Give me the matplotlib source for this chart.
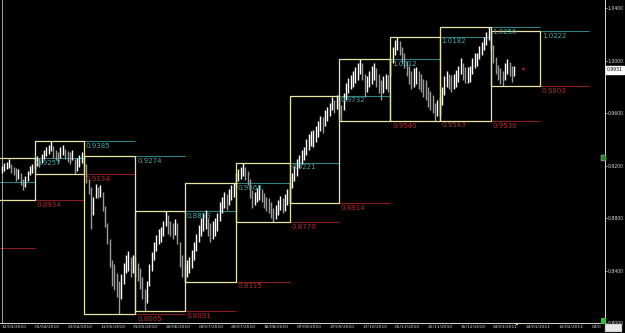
import matplotlib
matplotlib.use("Agg")
import matplotlib.pyplot as plt
from matplotlib.patches import Rectangle

# daily bars from 12/03/2010 (bar 0) to 17/01/2011
bar_high = [
    # Mar
    0.920, 0.922, 0.923, 0.925, 0.921, 0.919, 0.918, 0.917, 0.914, 0.910, 0.912, 0.916, 0.920, 0.921,
    # Apr
    0.926, 0.927, 0.926, 0.929, 0.932, 0.934, 0.936, 0.9385, 0.935, 0.932, 0.930, 0.934, 0.936, 0.933,
    0.931, 0.930, 0.932, 0.925, 0.926, 0.928, 0.930,
    # May
    0.928, 0.921, 0.910, 0.904, 0.896, 0.906, 0.904, 0.905, 0.900, 0.889, 0.876, 0.864, 0.848, 0.845,
    0.838, 0.832, 0.837, 0.846, 0.852, 0.855, 0.850, 0.852,
    # Jun
    0.850, 0.846, 0.842, 0.835, 0.826, 0.832, 0.845, 0.854, 0.862, 0.867, 0.872, 0.873, 0.878, 0.8853,
    0.882, 0.878, 0.876, 0.879, 0.876, 0.862, 0.852,
    # Jul
    0.845, 0.848, 0.850, 0.856, 0.862, 0.868, 0.875, 0.880, 0.884, 0.886, 0.880, 0.876, 0.878, 0.880,
    0.884, 0.892, 0.896, 0.900, 0.898, 0.902, 0.905, 0.9068,
    # Aug
    0.914, 0.917, 0.919, 0.9221, 0.919, 0.916, 0.910, 0.901, 0.900, 0.903, 0.905, 0.902, 0.899, 0.896,
    0.895, 0.892, 0.888, 0.890, 0.894, 0.897, 0.895, 0.898, 0.902,
    # Sep
    0.907, 0.914, 0.920, 0.925, 0.928, 0.932, 0.934, 0.940, 0.944, 0.946, 0.947, 0.950, 0.954, 0.958,
    0.957, 0.962, 0.965, 0.968, 0.972, 0.970, 0.9738,
    # Oct
    0.972, 0.966, 0.975, 0.983, 0.987, 0.989, 0.992, 0.995, 0.998, 1.0012, 0.998, 0.990, 0.988, 0.992,
    0.996, 0.998, 0.994, 0.990, 0.985, 0.988, 0.990, 0.989,
    # Nov
    1.002, 1.010, 1.016, 1.0182, 1.015, 1.010, 1.006, 1.000, 0.996, 0.992, 0.994, 0.995, 0.992, 0.990,
    0.986, 0.985, 0.980, 0.977, 0.974, 0.968, 0.970,
    # Dec
    0.972, 0.980, 0.988, 0.992, 0.990, 0.989, 0.990, 0.993, 0.996, 1.002, 0.998, 0.995, 0.995, 0.996,
    1.002, 1.006, 1.006, 1.011, 1.014, 1.018, 1.022, 1.0256,
    # Jan
    1.0222, 1.012, 1.003, 0.997, 0.994, 0.992, 0.998, 1.001, 0.999, 0.996, 0.996,
]
bar_low = [
    # Mar
    0.914, 0.916, 0.917, 0.918, 0.914, 0.913, 0.908, 0.910, 0.905, 0.901, 0.904, 0.908, 0.913, 0.914,
    # Apr
    0.917, 0.920, 0.919, 0.922, 0.925, 0.927, 0.929, 0.931, 0.926, 0.924, 0.922, 0.926, 0.928, 0.925,
    0.923, 0.921, 0.924, 0.9134, 0.916, 0.919, 0.922,
    # May
    0.920, 0.907, 0.898, 0.872, 0.882, 0.895, 0.895, 0.896, 0.885, 0.873, 0.860, 0.843, 0.828, 0.825,
    0.820, 0.8065, 0.818, 0.830, 0.838, 0.840, 0.835, 0.838,
    # Jun
    0.835, 0.832, 0.826, 0.818, 0.8091, 0.815, 0.828, 0.840, 0.848, 0.855, 0.860, 0.862, 0.866, 0.874,
    0.868, 0.866, 0.864, 0.867, 0.860, 0.843, 0.835,
    # Jul
    0.8315, 0.835, 0.838, 0.842, 0.848, 0.855, 0.862, 0.866, 0.870, 0.872, 0.866, 0.862, 0.864, 0.866,
    0.870, 0.878, 0.884, 0.888, 0.886, 0.890, 0.894, 0.896,
    # Aug
    0.904, 0.908, 0.910, 0.912, 0.909, 0.905, 0.895, 0.888, 0.890, 0.892, 0.894, 0.892, 0.888, 0.885,
    0.884, 0.880, 0.877, 0.879, 0.882, 0.886, 0.884, 0.885, 0.890,
    # Sep
    0.8914, 0.903, 0.908, 0.912, 0.918, 0.921, 0.924, 0.928, 0.932, 0.935, 0.934, 0.938, 0.942, 0.946,
    0.945, 0.950, 0.954, 0.958, 0.962, 0.960, 0.963,
    # Oct
    0.958, 0.954, 0.962, 0.970, 0.975, 0.978, 0.980, 0.983, 0.985, 0.990, 0.985, 0.972, 0.976, 0.980,
    0.982, 0.985, 0.980, 0.975, 0.970, 0.975, 0.978, 0.976,
    # Nov
    0.988, 0.998, 1.004, 1.008, 1.004, 0.998, 0.994, 0.988, 0.982, 0.978, 0.980, 0.982, 0.978, 0.976,
    0.972, 0.970, 0.965, 0.962, 0.960, 0.9543, 0.958,
    # Dec
    0.958, 0.966, 0.974, 0.980, 0.978, 0.976, 0.978, 0.980, 0.984, 0.990, 0.985, 0.983, 0.983, 0.984,
    0.990, 0.994, 0.996, 1.001, 1.004, 1.008, 1.012, 1.016,
    # Jan
    1.008, 0.998, 0.990, 0.985, 0.982, 0.9803, 0.985, 0.990, 0.988, 0.984, 0.988,
]

# monthly ranges (Feb 2010 .. Jan 2011) and the bar where each month starts
month_names = ["Feb", "Mar", "Apr", "May", "Jun", "Jul", "Aug", "Sep", "Oct", "Nov", "Dec", "Jan"]
month_start = [-30, -8, 14, 35, 57, 78, 100, 123, 144, 166, 187, 209, 230, 251]
month_high = [0.9075, 0.9257, 0.9385, 0.9274, 0.8853, 0.9068, 0.9221, 0.9732, 1.0012, 1.0182, 1.0256, 1.0222]
month_low = [0.8574, 0.8934, 0.9134, 0.8065, 0.8091, 0.8315, 0.8770, 0.8914, 0.9540, 0.9543, 0.9536, 0.9803]

date_labels = ["12/03/2010", "01/04/2010", "21/04/2010", "11/05/2010", "31/05/2010", "20/06/2010",
               "09/07/2010", "29/07/2010", "18/08/2010", "07/09/2010", "27/09/2010", "17/10/2010",
               "05/11/2010", "25/11/2010", "15/12/2010", "04/01/2011", "24/01/2011", "13/02/2011",
               "04/0"]
price_ticks = [0.80, 0.84, 0.88, 0.92, 0.96, 1.00, 1.04]
last_price = 0.9931

BOX = "#e6e6a6"
HI_LINE = "#2a8484"
HI_TEXT = "#4aa6a6"
LO_LINE = "#8a1c1c"
LO_TEXT = "#b02a2a"

fig = plt.figure(figsize=(6.25, 3.33), dpi=100, facecolor="black")
ax = fig.add_axes([0, 10 / 333, 605 / 625, 323 / 333], facecolor="black")

# bars, white when the bar moved up, grey when down
idx = list(range(len(bar_high)))
colors = []
for i in idx:
    mid = (bar_high[i] + bar_low[i]) / 2
    prev = (bar_high[i - 1] + bar_low[i - 1]) / 2 if i > 0 else mid
    colors.append("#ffffff" if mid >= prev else "#9a9a9a")
ax.vlines(idx, bar_low, bar_high, colors=colors, lw=1.0, zorder=3)

# monthly boxes + previous month high/low carried into the next month
for m in range(len(month_names)):
    s, e, e2 = month_start[m], month_start[m + 1], month_start[m + 2]
    hi, lo = month_high[m], month_low[m]
    ax.add_patch(Rectangle((s, lo), e - s, hi - lo, fill=False, ec=BOX, lw=0.9, zorder=4))
    ax.hlines(hi, e, e2, color=HI_LINE, lw=0.8, zorder=2)
    ax.hlines(lo, e, e2, color=LO_LINE, lw=0.8, zorder=2)
    ax.annotate(f"{hi:.4f}", (e, hi), xytext=(1.2, -1.2), textcoords="offset points",
                ha="left", va="top", fontsize=5, color=HI_TEXT, zorder=5)
    ax.annotate(f"{lo:.4f}", (e, lo), xytext=(1.2, -1.2), textcoords="offset points",
                ha="left", va="top", fontsize=5, color=LO_TEXT, zorder=5)

ax.axvline(-0.1, color="#bdbdbd", lw=0.6)

# arrow at the current price
ax.annotate("", xy=(220.8, last_price + 0.0005), xytext=(224.5, last_price + 0.0005),
            arrowprops=dict(arrowstyle="-|>", color="#c02020", lw=0.6, mutation_scale=3))

ax.set_xlim(-0.85, 257.7)
ax.set_ylim(0.8, 0.8 + 323 / 1312)

ax.set_xticks([14 * i - 0.1 for i in range(len(date_labels))])
ax.set_xticklabels(date_labels, ha="left")
ax.yaxis.tick_right()
ax.set_yticks(price_ticks)
ax.set_yticklabels([f"{p:.4f}" for p in price_ticks])
ax.tick_params(axis="x", colors="#d8d8d8", labelsize=3.2, length=0, pad=1.5)
ax.tick_params(axis="y", colors="#d8d8d8", labelsize=3.3, length=1.2, width=0.5, pad=0.8)

for side in ["top", "left"]:
    ax.spines[side].set_visible(False)
ax.spines["right"].set_color("#d8d8d8")
ax.spines["bottom"].set_color("#d8d8d8")
ax.spines["right"].set_linewidth(0.7)
ax.spines["bottom"].set_linewidth(0.7)

# current price box on the price scale
ax.annotate(f"{last_price:.4f}", xy=(1.0, last_price), xycoords=("axes fraction", "data"),
            xytext=(1.5, 0), textcoords="offset points", ha="left", va="center",
            fontsize=3.3, color="black", annotation_clip=False,
            bbox=dict(boxstyle="square,pad=0.3", fc="white", ec="white"))

# small terminal markers
fig.add_artist(Rectangle((601 / 625, 9 / 333), 5 / 625, 6 / 333, transform=fig.transFigure,
                         fc="#22cc22", ec="none"))
fig.add_artist(Rectangle((601 / 625, 172 / 333), 5 / 625, 6 / 333, transform=fig.transFigure,
                         fc="#228822", ec="#cccccc", lw=0.3))
fig.add_artist(Rectangle((605 / 625, 1 / 333), 17 / 625, 8 / 333, transform=fig.transFigure,
                         fc="#e8e8e8", ec="#808080", lw=0.3))
fig.add_artist(Rectangle((516 / 625, 8.5 / 333), 2 / 625, 2 / 333, transform=fig.transFigure,
                         fc="#e8e070", ec="none"))

fig.savefig("out.png", dpi=100, facecolor="black")
